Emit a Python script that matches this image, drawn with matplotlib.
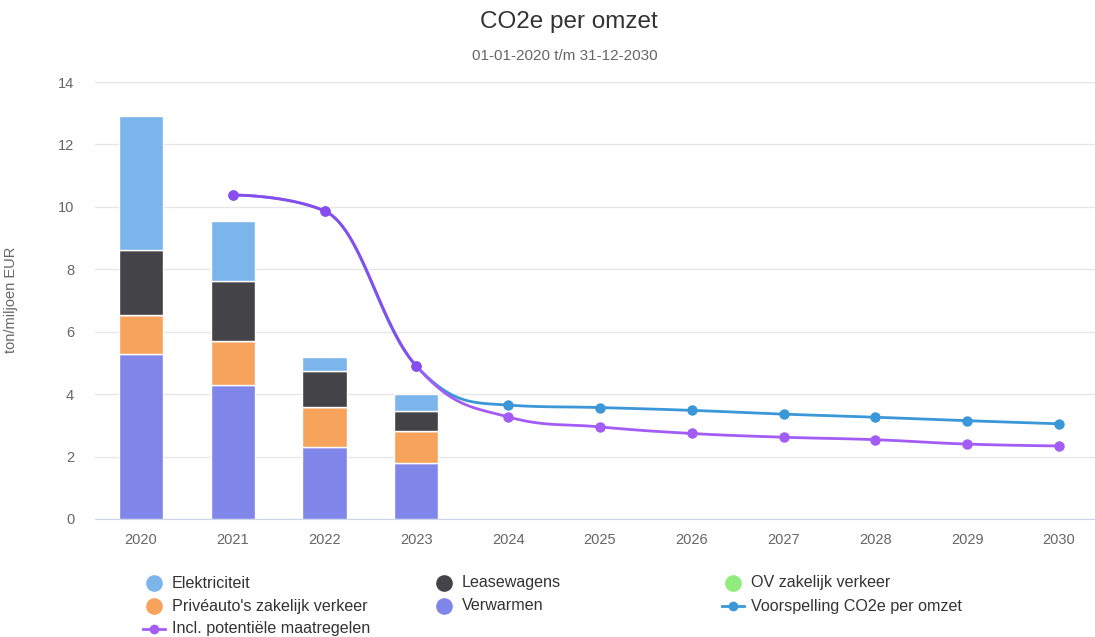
import numpy as np
import matplotlib
matplotlib.use("Agg")
import matplotlib.pyplot as plt
from matplotlib.lines import Line2D

plt.rcParams['font.family'] = ['Liberation Sans', 'DejaVu Sans']

# ---------------- data ----------------
years = ["2020", "2021", "2022", "2023", "2024", "2025", "2026", "2027", "2028", "2029", "2030"]
bar_years = ["2020", "2021", "2022", "2023"]
verwarmen = [5.29, 4.29, 2.31, 1.78]
priveauto = [1.25, 1.42, 1.28, 1.04]
leasewagens = [2.08, 1.92, 1.15, 0.64]
elektriciteit = [4.30, 1.92, 0.45, 0.54]
ov_zakelijk = [0.0, 0.0, 0.0, 0.0]

line_years = ["2021", "2022", "2023", "2024", "2025", "2026", "2027", "2028", "2029", "2030"]
voorspelling = [10.38, 9.87, 4.90, 3.65, 3.57, 3.48, 3.36, 3.26, 3.15, 3.05]
maatregelen = [10.38, 9.87, 4.90, 3.27, 2.95, 2.74, 2.62, 2.54, 2.40, 2.34]

title = "CO2e per omzet"
subtitle = "01-01-2020 t/m 31-12-2030"
ylabel = "ton/miljoen EUR"

# ---------------- colours ----------------
c_elek = "#7cb5ec"
c_lease = "#434348"
c_ov = "#90ed7d"
c_prive = "#f7a35c"
c_verw = "#8085e9"
c_blue = "#3a97d8"
c_purple = "#a35cf5"
c_purple_dark = "#8a4bef"
grey = "#666666"


def hc_spline(xs, ys, smoothing=1.5, n=40):
    """Highcharts-style spline; returns list of dense segments."""
    xs = np.asarray(xs, float)
    ys = np.asarray(ys, float)
    m = len(xs)
    denom = smoothing + 1
    lc = [(xs[i], ys[i]) for i in range(m)]
    rc = [(xs[i], ys[i]) for i in range(m)]
    for i in range(1, m - 1):
        x, y = xs[i], ys[i]
        lx, ly = xs[i - 1], ys[i - 1]
        nx, ny = xs[i + 1], ys[i + 1]
        lcx = (smoothing * x + lx) / denom
        lcy = (smoothing * y + ly) / denom
        rcx = (smoothing * x + nx) / denom
        rcy = (smoothing * y + ny) / denom
        if rcx != lcx:
            corr = (rcy - lcy) * (rcx - x) / (rcx - lcx) + y - rcy
            lcy += corr
            rcy += corr
            if lcy > ly and lcy > y:
                lcy = max(ly, y); rcy = 2 * y - lcy
            elif lcy < ly and lcy < y:
                lcy = min(ly, y); rcy = 2 * y - lcy
            if rcy > ny and rcy > y:
                rcy = max(ny, y); lcy = 2 * y - rcy
            elif rcy < ny and rcy < y:
                rcy = min(ny, y); lcy = 2 * y - rcy
        lc[i] = (lcx, lcy)
        rc[i] = (rcx, rcy)
    segs = []
    t = np.linspace(0, 1, n)[:, None]
    for i in range(m - 1):
        p0 = np.array([xs[i], ys[i]])
        p1 = np.array(rc[i])
        p2 = np.array(lc[i + 1])
        p3 = np.array([xs[i + 1], ys[i + 1]])
        pts = ((1 - t) ** 3) * p0 + 3 * ((1 - t) ** 2) * t * p1 + 3 * (1 - t) * t ** 2 * p2 + t ** 3 * p3
        segs.append(pts)
    return segs


W, H = 1095, 637
fig = plt.figure(figsize=(W / 100, H / 100), dpi=100)
ax = fig.add_axes([95 / W, (H - 519) / H, 1 - 95 / W, (519 - 82) / H])

xpos = {y: i for i, y in enumerate(years)}
bx = np.array([xpos[y] for y in bar_years])
bw = 0.48
bottom = np.zeros(len(bx))
for vals, col in [(verwarmen, c_verw), (priveauto, c_prive), (ov_zakelijk, c_ov),
                  (leasewagens, c_lease), (elektriciteit, c_elek)]:
    v = np.array(vals)
    ax.bar(bx, v, bw, bottom=bottom, color=col, edgecolor="white", linewidth=1, zorder=2)
    bottom = bottom + v

lx = np.array([xpos[y] for y in line_years])
# blue forecast line
for seg in hc_spline(lx, voorspelling):
    ax.plot(seg[:, 0], seg[:, 1], color=c_blue, lw=2, zorder=3, solid_capstyle="round")
ax.plot(lx, voorspelling, 'o', color=c_blue, ms=7.5, zorder=3.5, mec="none")
# purple line
for i, seg in enumerate(hc_spline(lx, maatregelen)):
    col = c_purple_dark if i < 2 else c_purple
    ax.plot(seg[:, 0], seg[:, 1], color=col, lw=2, zorder=4, solid_capstyle="round")
for i, (x, y) in enumerate(zip(lx, maatregelen)):
    col = c_purple_dark if i < 3 else c_purple
    ax.plot([x], [y], 'o', color=col, ms=7.5, zorder=4.5, mec="none")

ax.set_xlim(-0.5, (1095 - 141) / 91.8)
ax.set_ylim(0, 14)
ax.set_yticks(np.arange(0, 15, 2))
ax.set_xticks(range(len(years)))
ax.set_xticklabels(years)
ax.yaxis.grid(True, color="#e6e6e6", lw=1)
ax.set_axisbelow(True)
for s in ["top", "right", "left"]:
    ax.spines[s].set_visible(False)
ax.spines["bottom"].set_color("#ccd6eb")
ax.tick_params(axis="both", length=0, colors=grey, labelsize=10.5)
ax.tick_params(axis="y", pad=15)
ax.tick_params(axis="x", pad=10)
ax.set_ylabel(ylabel, color=grey, fontsize=10.5)
ax.yaxis.set_label_coords(18 / W, 1 - 300 / H, transform=fig.transFigure)

fig.text(569 / W, 1 - 22 / H, title, ha="center", va="center", fontsize=17.5, color="#333333")
fig.text(565 / W, 1 - 56 / H, subtitle, ha="center", va="center", fontsize=11, color=grey)

# legend (manual, Highcharts layout)
items = [
    (154, 583, "Elektriciteit", c_elek, "dot"),
    (444, 583, "Leasewagens", c_lease, "dot"),
    (733, 583, "OV zakelijk verkeer", c_ov, "dot"),
    (154, 606, "Privéauto's zakelijk verkeer", c_prive, "dot"),
    (444, 606, "Verwarmen", c_verw, "dot"),
    (733, 606, "Voorspelling CO2e per omzet", c_blue, "line"),
    (154, 629, "Incl. potentiële maatregelen", c_purple, "line"),
]
for x, y, txt, col, kind in items:
    fy = 1 - y / H
    if kind == "dot":
        fig.add_artist(Line2D([x / W], [fy], marker="o", ms=12, color=col, mec="none",
                              transform=fig.transFigure))
    else:
        fig.add_artist(Line2D([(x - 11) / W, (x + 11) / W], [fy, fy], color=col, lw=2,
                              transform=fig.transFigure))
        fig.add_artist(Line2D([x / W], [fy], marker="o", ms=7, color=col, mec="none",
                              transform=fig.transFigure))
    fig.text((x + 18) / W, fy, txt, ha="left", va="center", fontsize=11.6, color="#333333")

fig.savefig("out.png", dpi=100)
